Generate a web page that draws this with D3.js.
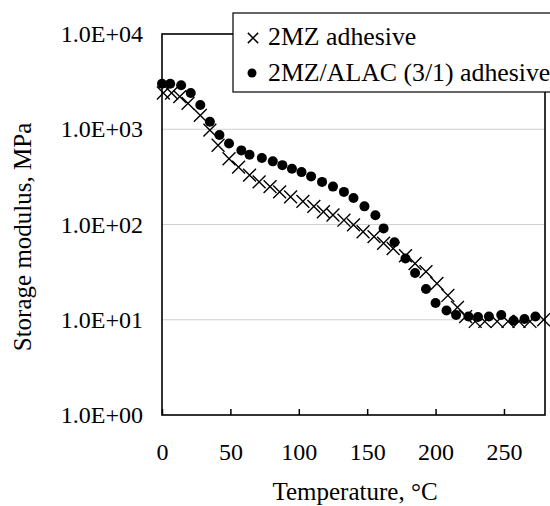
<!DOCTYPE html>
<html>
<head>
<meta charset="utf-8">
<script src="https://cdn.jsdelivr.net/npm/d3@7"></script>
<style>
  body { margin: 0; background: #fff; }
  svg { display: block; }
  svg text { font-family: "Liberation Serif", "Times New Roman", serif; fill: #000; }
</style>
</head>
<body>
<svg id="chart" width="550" height="506"></svg>
<script>
// 2MZ adhesive (crosses)
const tempA = [1, 7, 13, 19, 28, 35, 41, 49, 56, 64, 71, 79, 86, 94, 103, 111, 118, 125, 133, 140,
  147, 155, 162, 169, 178, 185, 193, 201, 209, 216, 222, 229, 236, 245, 253, 261, 269, 279];
const modA = [2400, 2400, 2200, 1870, 1400, 980, 680, 490, 400, 330, 280, 250, 220, 195, 175, 155,
  136, 126, 111, 99, 84, 74.5, 63.5, 56, 47, 39, 32, 24, 18, 13.5, 10.8, 9.6, 9.6, 9.6, 9.6, 9.6, 9.6, 10];

// 2MZ/ALAC (3/1) adhesive (filled circles)
const tempB = [0, 6, 14, 21, 28, 35, 42, 49, 58, 64, 73, 81, 88, 95, 102, 109, 117, 125, 133, 140,
  148, 156, 162, 170, 178, 185, 193, 200, 208, 215, 224, 231, 239, 248, 257, 265, 273];
const modB = [3000, 3000, 2900, 2400, 1800, 1200, 870, 710, 600, 540, 500, 460, 420, 385, 355, 320,
  280, 250, 220, 190, 155, 125, 91, 65, 44, 31, 21, 15, 12.5, 11.2, 10.8, 10.7, 10.8, 11.2, 9.8, 10.2, 10.8];

const xTicks = [0, 50, 100, 150, 200, 250];
const yTicks = [1, 10, 100, 1000, 10000];
const legendLabels = ["2MZ adhesive", "2MZ/ALAC (3/1) adhesive"];

const seriesA = tempA.map((t, i) => ({ t: t, v: modA[i] }));
const seriesB = tempB.map((t, i) => ({ t: t, v: modB[i] }));

const plot = { left: 162, right: 545, top: 34, bottom: 415 };

const svg = d3.select("#chart");

const x = d3.scaleLinear().domain([0, 280]).range([plot.left, plot.right]);
const y = d3.scaleLog().domain([1, 10000]).range([plot.bottom, plot.top]);

// 网格线
svg.append("g")
  .selectAll("line")
  .data(yTicks.slice(1, -1))
  .enter().append("line")
  .attr("x1", plot.left).attr("x2", plot.right)
  .attr("y1", d => y(d)).attr("y2", d => y(d))
  .attr("stroke", "#d0d0d0")
  .attr("stroke-width", 1.2);

// y 轴刻度标签
const yAxis = svg.append("g")
  .attr("transform", `translate(${plot.left},0)`)
  .call(d3.axisLeft(y).tickValues(yTicks).tickSize(0).tickPadding(19)
    .tickFormat(d => "1.0E+" + String(Math.round(Math.log10(d))).padStart(2, "0")));
yAxis.select(".domain").remove();
yAxis.attr("font-family", null).attr("font-size", 24);

// x 轴（刻度朝内）
const xAxis = svg.append("g")
  .attr("transform", `translate(0,${plot.bottom})`)
  .call(d3.axisBottom(x).tickValues(xTicks).tickSize(-6).tickPadding(28));
xAxis.select(".domain").remove();
xAxis.attr("font-family", null).attr("font-size", 24);
xAxis.selectAll("line").attr("stroke", "#000").attr("stroke-width", 1.5);

// 边框
svg.append("rect")
  .attr("x", plot.left).attr("y", plot.top)
  .attr("width", plot.right - plot.left).attr("height", plot.bottom - plot.top)
  .attr("fill", "none")
  .attr("stroke", "#000")
  .attr("stroke-width", 1.6);

// 数据点
const cross = d3.symbol().type(d3.symbolTimes).size(110);

svg.append("g")
  .selectAll("path")
  .data(seriesA)
  .enter().append("path")
  .attr("d", cross)
  .attr("transform", d => `translate(${x(d.t)},${y(d.v)})`)
  .attr("fill", "none")
  .attr("stroke", "#000")
  .attr("stroke-width", 1.4);

svg.append("g")
  .selectAll("circle")
  .data(seriesB)
  .enter().append("circle")
  .attr("cx", d => x(d.t))
  .attr("cy", d => y(d.v))
  .attr("r", 5)
  .attr("fill", "#000");

// 轴标题
svg.append("text")
  .attr("transform", "translate(31,237) rotate(-90)")
  .attr("text-anchor", "middle")
  .attr("font-size", 25)
  .text("Storage modulus, MPa");

svg.append("text")
  .attr("x", 355).attr("y", 500)
  .attr("text-anchor", "middle")
  .attr("font-size", 25)
  .text("Temperature, °C");

// 图例
const legend = svg.append("g");
legend.append("rect")
  .attr("x", 233).attr("y", 13)
  .attr("width", 340).attr("height", 79)
  .attr("fill", "#fff")
  .attr("stroke", "#000")
  .attr("stroke-width", 1.2);

legend.append("path")
  .attr("d", d3.symbol().type(d3.symbolTimes).size(70)())
  .attr("transform", "translate(253,38)")
  .attr("fill", "none")
  .attr("stroke", "#000")
  .attr("stroke-width", 1.5);

legend.append("circle")
  .attr("cx", 252).attr("cy", 73).attr("r", 4.5)
  .attr("fill", "#000");

legend.selectAll("text")
  .data(legendLabels)
  .enter().append("text")
  .attr("x", 268)
  .attr("y", (d, i) => 45 + i * 36)
  .attr("font-size", 25.8)
  .text(d => d);
</script>
</body>
</html>
